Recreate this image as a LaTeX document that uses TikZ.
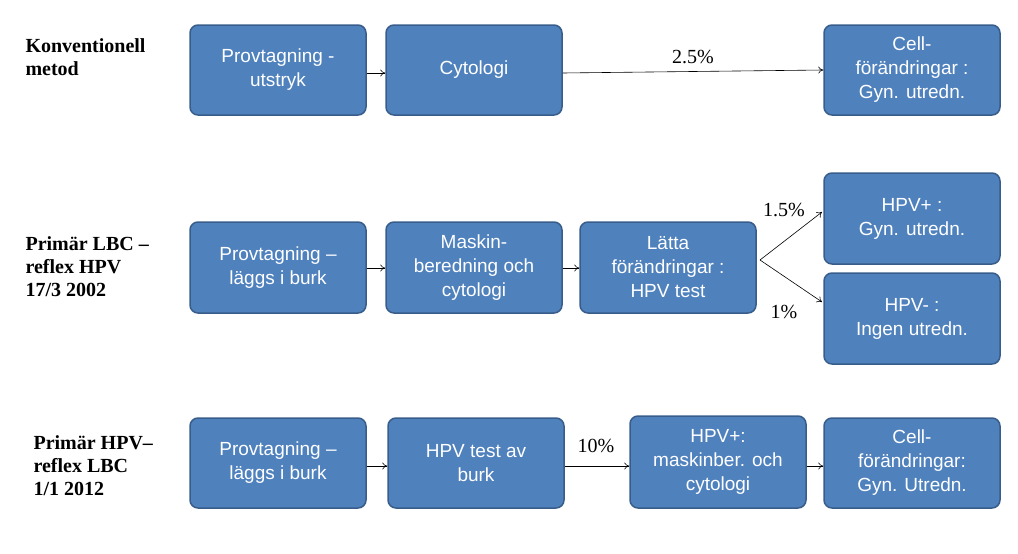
\documentclass[tikz,border=0pt]{standalone}
\usepackage{fontspec}
\setmainfont{Liberation Serif}
\setsansfont{Liberation Sans}
\usetikzlibrary{arrows.meta}
\definecolor{bfill}{HTML}{4F81BD}
\definecolor{bdraw}{HTML}{385D8A}
\begin{document}
\begin{tikzpicture}[x=1pt,y=-1pt,
 bx/.style={draw=bdraw,line width=1.5pt,fill=bfill,rounded corners=8pt,text=white,
   font=\sffamily\fontsize{19}{24}\selectfont,align=center,inner sep=0pt},
 lab/.style={font=\bfseries\fontsize{20}{23}\selectfont,align=left,anchor=west},
 pct/.style={font=\fontsize{20}{23}\selectfont},
 ar/.style={-{To[length=5pt,width=7pt]},line width=0.6pt}]
\useasboundingbox (0,0) rectangle (1018,554);
\newcommand\bx[6]{\node[bx,minimum width=#4-#2,minimum height=#5-#3] (#1) at ({(#2+#4)/2},{(#3+#5)/2}) {#6};}
\bx{a1}{190}{25}{366}{115}{Provtagning -\\utstryk}
\bx{a2}{386}{25}{562}{115}{Cytologi}
\bx{a3}{824}{25}{1000}{115}{Cell-\\förändringar :\\Gyn. utredn.}
\bx{b1}{190}{222}{366}{313}{Provtagning --\\läggs i burk}
\bx{b2}{386}{222}{562}{313}{Maskin-\\beredning och\\cytologi}
\bx{b3}{580}{222}{756}{313}{Lätta\\förändringar :\\HPV test}
\bx{b4}{824}{173}{1000}{264}{HPV+ :\\Gyn. utredn.}
\bx{b5}{824}{273}{1000}{364}{HPV- :\\Ingen utredn.}
\bx{c1}{190}{418}{366}{508}{Provtagning --\\läggs i burk}
\bx{c2}{388}{418}{564}{508}{HPV test av\\burk}
\bx{c3}{630}{416}{806}{508}{HPV+:\\maskinber. och\\cytologi}
\bx{c4}{824}{418}{1000}{508}{Cell-\\förändringar:\\Gyn. Utredn.}
\node[lab] (l1) at (22,57) {Konventionell\\metod};
\node[lab] (l2) at (22,267) {Primär LBC --\\reflex HPV\\17/3 2002};
\node[lab] (l3) at (30,466) {Primär HPV--\\ reflex LBC\\ 1/1 2012};
\draw[ar] (a1.east|-0,73) -- (a2.west|-0,73);
\draw[ar] (a2.east|-0,73) -- node[pct,above=4pt]{2.5\%} (a3.east-|a3.west);
\draw[ar] (b1.east|-0,268) -- (b2.west|-0,268);
\draw[ar] (b2.east|-0,268) -- (b3.west|-0,268);
\coordinate (bs) at (760,260);
\draw[ar] (bs) -- (822,212);
\draw[ar] (bs) -- (822,302);
\node[pct] (p15) at (784,210) {1.5\%};
\node[pct] (p1) at (784,312) {1\%};
\draw[ar] (c1.east|-0,466) -- (c2.west|-0,466);
\draw[ar] (c2.east|-0,466) -- (c3.west|-0,466);
\node[pct] (p10) at (596,446) {10\%};
\draw[ar] (c3.east|-0,466) -- (c4.west|-0,466);
\end{tikzpicture}
\end{document}
